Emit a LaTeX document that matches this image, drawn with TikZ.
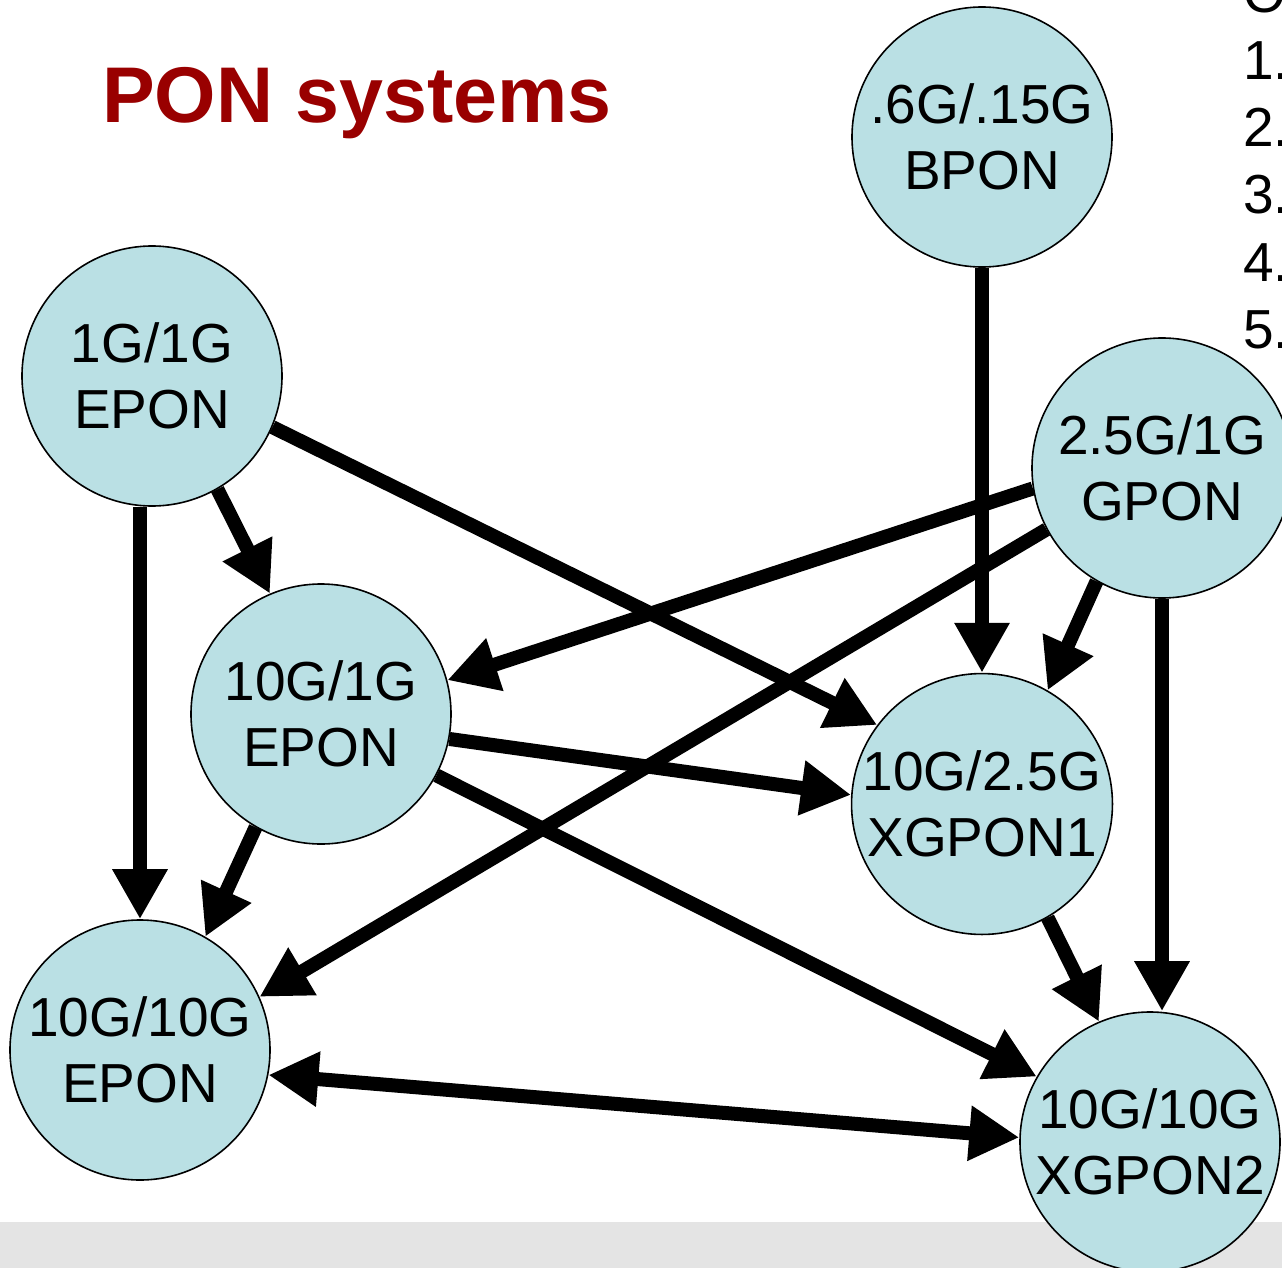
\documentclass[tikz,border=0pt]{standalone}
\usepackage{fontspec}
\setmainfont{Liberation Sans}
\usetikzlibrary{arrows.meta}
\definecolor{ponfill}{RGB}{186,224,228}
\definecolor{titlered}{RGB}{153,0,0}
\definecolor{barfill}{RGB}{228,228,228}
\tikzset{
  pon/.style={circle, draw=black, line width=1.6pt, fill=ponfill, minimum size=260pt,
    inner sep=0pt, align=center, font=\fontsize{55}{66}\selectfont},
  flow/.style={line width=14pt, -{Triangle[length=50pt,width=52pt]}},
  bothflow/.style={line width=14pt, {Triangle[length=50pt,width=52pt]}-{Triangle[length=50pt,width=52pt]}},
  listitem/.style={anchor=base west, inner sep=0pt, font=\fontsize{55}{66}\selectfont},
}
\begin{document}
\begin{tikzpicture}[x=1pt, y=-1pt]
  \useasboundingbox (0,0) rectangle (1282,1268);
  \clip (0,0) rectangle (1282,1268);
  \fill[white] (0,0) rectangle (1282,1268);
  % footer band
  \fill[barfill] (0,1222) rectangle (1282,1268);

  % title
  \node[anchor=base west, inner sep=0pt, text=titlered,
        font=\fontsize{79}{90}\selectfont\bfseries] (title) at (102,123) {PON systems};

  % numbered list at the right edge
  \node[listitem] (l0) at (1243,13) {O};
  \node[listitem] (l1) at (1243,80) {1.};
  \node[listitem] (l2) at (1243,147) {2.};
  \node[listitem] (l3) at (1243,214) {3.};
  \node[listitem] (l4) at (1243,281) {4.};
  \node[listitem] (l5) at (1243,348) {5.};

  % systems
  \node[pon] (bpon) at (982,137)  {.6G/.15G\\BPON};
  \node[pon] (e1)   at (152,376)  {1G/1G\\EPON};
  \node[pon] (gpon) at (1162,468) {2.5G/1G\\GPON};
  \node[pon] (e101) at (321,714)  {10G/1G\\EPON};
  \node[pon] (xg1)  at (982,804)  {10G/2.5G\\XGPON1};
  \node[pon] (e10)  at (140,1050) {10G/10G\\EPON};
  \node[pon] (xg2)  at (1150,1142) {10G/10G\\XGPON2};

  % upgrade paths
  \draw[flow] (bpon.south) -- (bpon.south |- xg1.north);
  \draw[flow] (e1.-60.6) -- (e101.113.8);
  \draw[flow] (e10.north |- e1.south) -- (e10.north);
  \draw[flow] (e1.-23.8) -- (xg1.143.7);
  \draw[flow] (gpon.189.6) -- (e101.15.6);
  \draw[flow] (gpon.208.5) -- (e10.24.2);
  \draw[flow] (gpon.240.9) -- (xg1.60.6);
  \draw[flow] (gpon.south) -- (gpon.south |- xg2.north);
  \draw[flow] (e101.-11.2) -- (xg1.176.9);
  \draw[flow] (e101.240.4) -- (e10.60.9);
  \draw[flow] (e101.-28.3) -- (xg2.150.2);
  \draw[flow] (xg1.-60.4) -- (xg2.113.4);
  \draw[bothflow] (e10.-11.3) -- (xg2.178.2);
\end{tikzpicture}
\end{document}
